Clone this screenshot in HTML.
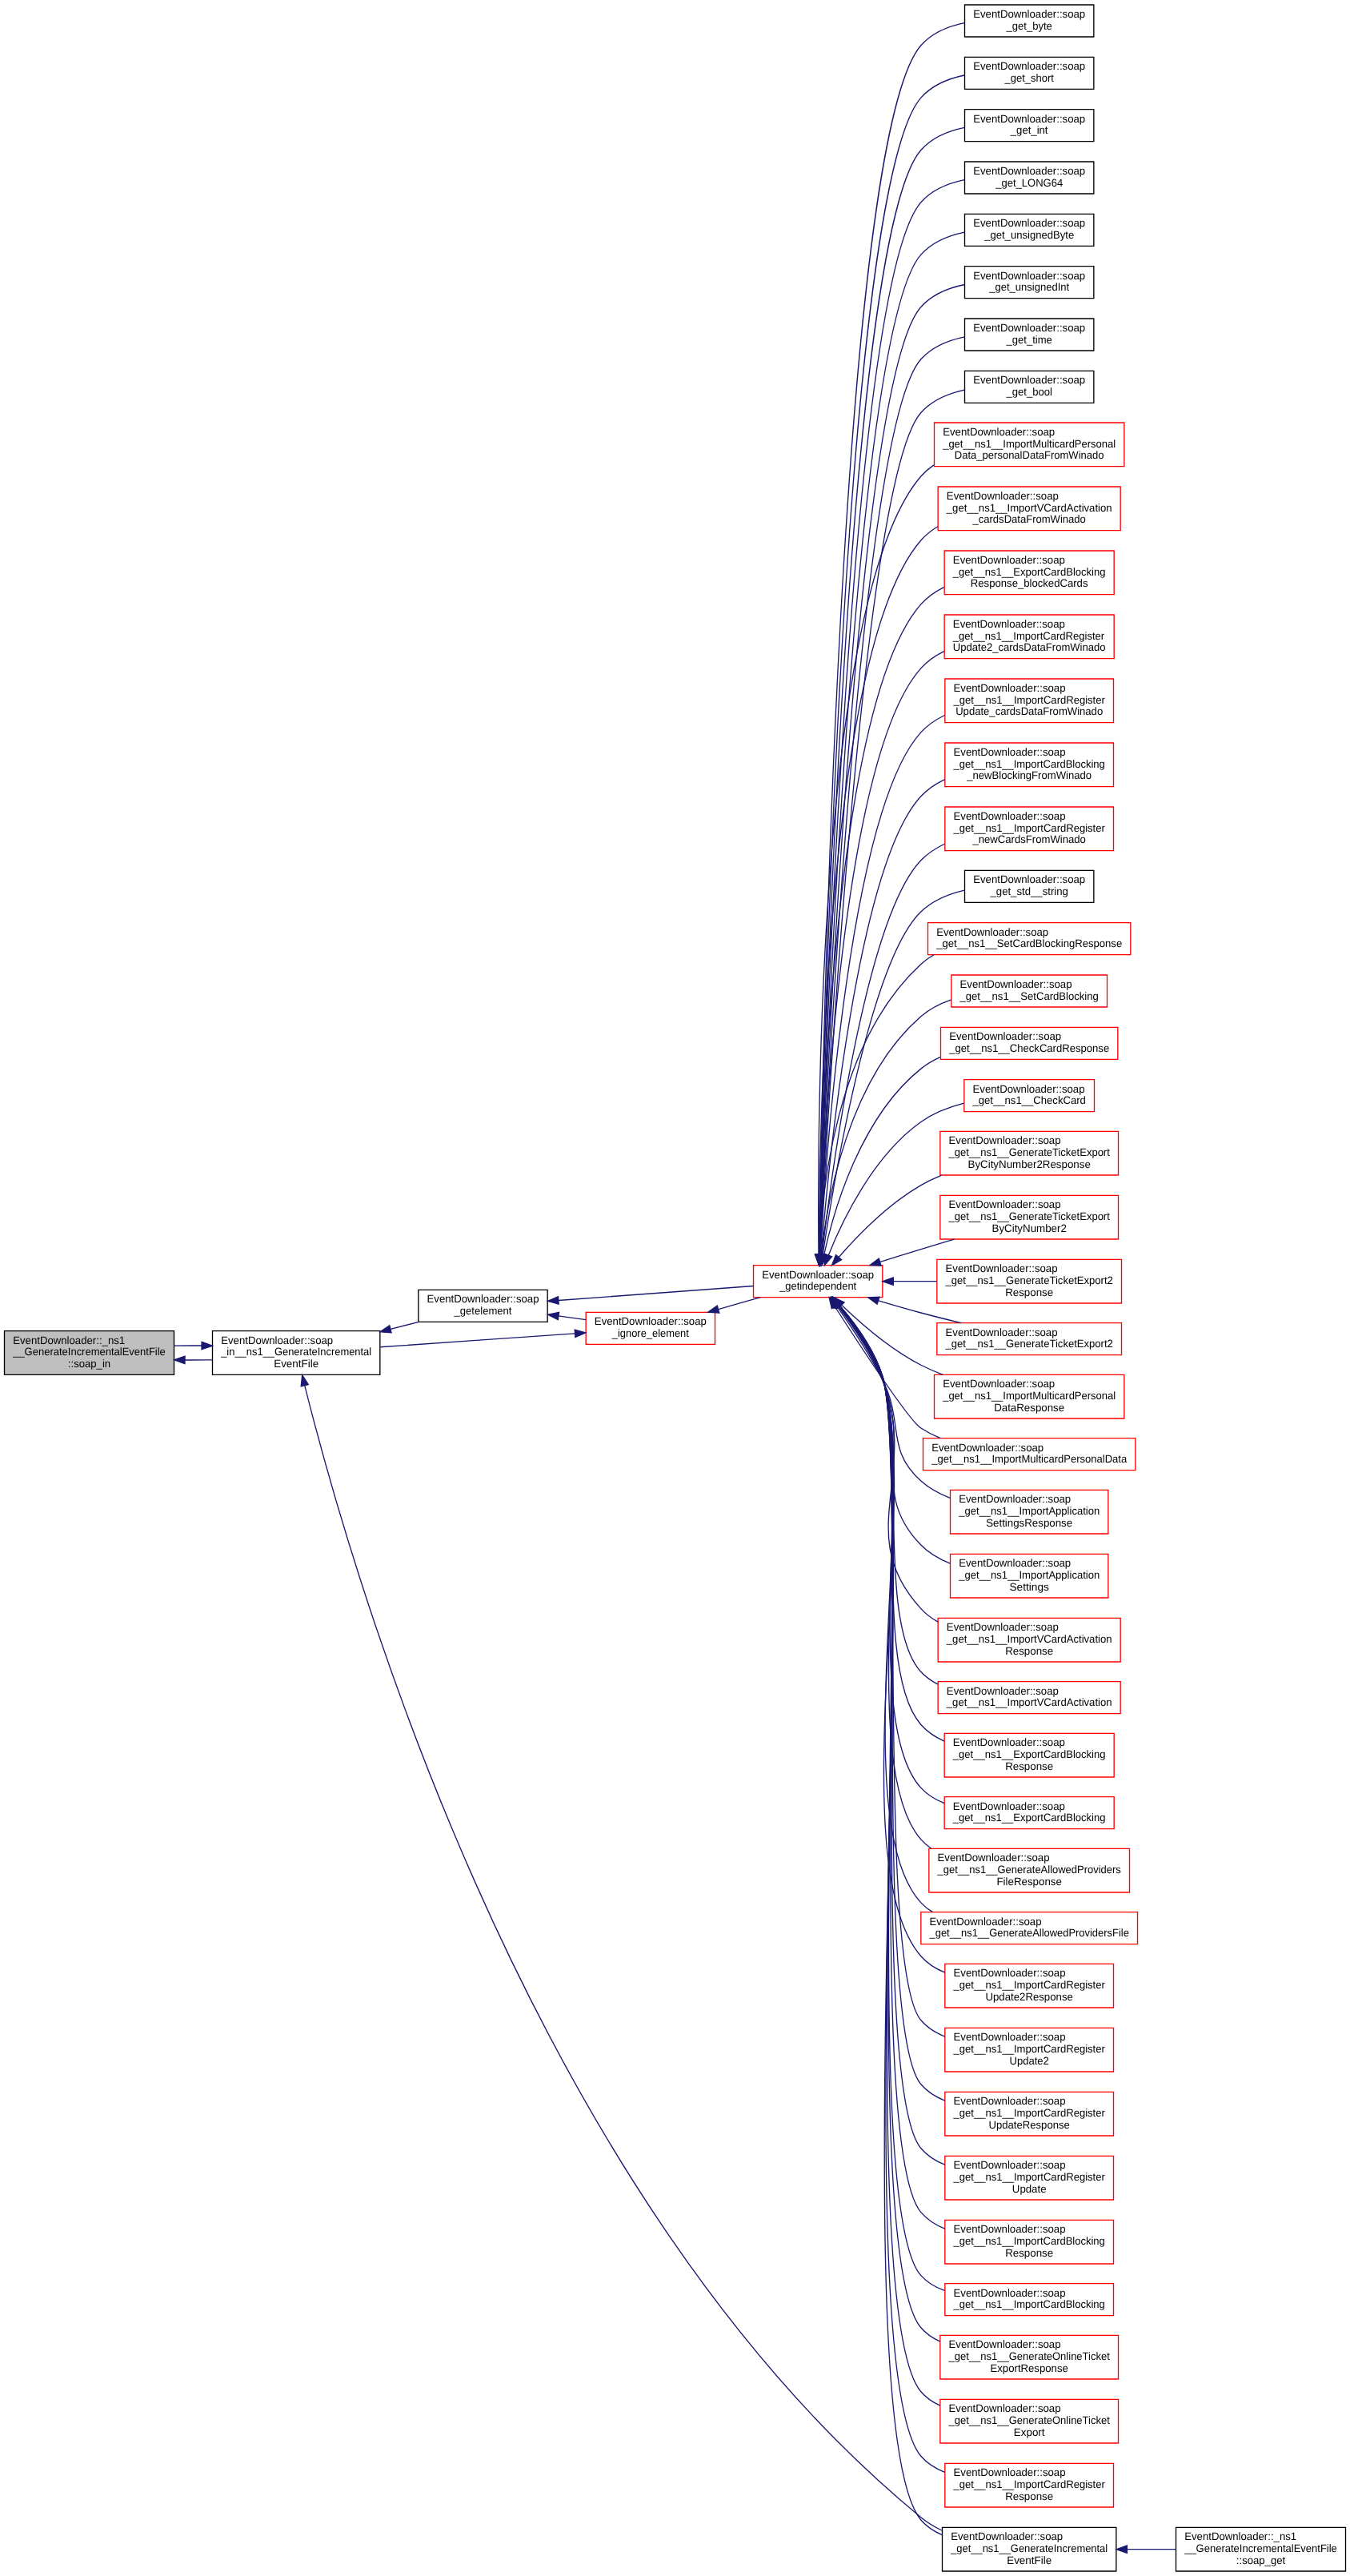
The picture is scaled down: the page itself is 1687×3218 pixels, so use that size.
<!DOCTYPE html>
<html><head><meta charset="utf-8"><title>Call graph</title>
<style>
html,body{margin:0;padding:0;background:#fff;}
body{width:1687px;height:3218px;overflow:hidden;}
svg{display:block;will-change:transform;}
text{font-family:"Liberation Sans",sans-serif;text-rendering:geometricPrecision;}
</style></head><body>
<svg width="1687px" height="3218px" viewBox="0 0 1265 2413.5">
<g transform="translate(4 2424.5)">
<polygon fill="white" stroke="transparent" points="-4,4 -4,-2424.5 1261,-2424.5 1261,4 -4,4" />
<g>
<polygon fill="#bfbfbf" stroke="black" points="0,-1136.5 0,-1177.5 159,-1177.5 159,-1136.5 0,-1136.5" />
<text text-anchor="start" x="8" y="-1165.5" font-family="Liberation Sans" font-size="10.2" textLength="105" lengthAdjust="spacingAndGlyphs">EventDownloader::_ns1</text>
<text text-anchor="start" x="8" y="-1154.5" font-family="Liberation Sans" font-size="10.2" textLength="143" lengthAdjust="spacingAndGlyphs">__GenerateIncrementalEventFile</text>
<text text-anchor="middle" x="79.5" y="-1143.5" font-family="Liberation Sans" font-size="10.2" textLength="40" lengthAdjust="spacingAndGlyphs">::soap_in</text>
</g>
<g>
<polygon fill="white" stroke="black" points="195,-1136.5 195,-1177.5 352,-1177.5 352,-1136.5 195,-1136.5" />
<text text-anchor="start" x="203" y="-1165.5" font-family="Liberation Sans" font-size="10.2" textLength="105" lengthAdjust="spacingAndGlyphs">EventDownloader::soap</text>
<text text-anchor="start" x="203" y="-1154.5" font-family="Liberation Sans" font-size="10.2" textLength="141" lengthAdjust="spacingAndGlyphs">_in__ns1__GenerateIncremental</text>
<text text-anchor="middle" x="273.5" y="-1143.5" font-family="Liberation Sans" font-size="10.2" textLength="42" lengthAdjust="spacingAndGlyphs">EventFile</text>
</g>
<g>
<path fill="none" stroke="midnightblue" d="M169.18,-1150.27C177.77,-1150.23 186.44,-1150.26 194.91,-1150.36" />
<polygon fill="midnightblue" stroke="midnightblue" points="169.12,-1146.77 159.15,-1150.35 169.18,-1153.77 169.12,-1146.77" />
</g>
<g>
<path fill="none" stroke="midnightblue" d="M184.89,-1163.73C176.31,-1163.77 167.63,-1163.75 159.15,-1163.65" />
<polygon fill="midnightblue" stroke="midnightblue" points="184.94,-1167.23 194.91,-1163.64 184.88,-1160.23 184.94,-1167.23" />
</g>
<g>
<polygon fill="white" stroke="black" points="388,-1186 388,-1216 509,-1216 509,-1186 388,-1186" />
<text text-anchor="start" x="396" y="-1204" font-family="Liberation Sans" font-size="10.2" textLength="105" lengthAdjust="spacingAndGlyphs">EventDownloader::soap</text>
<text text-anchor="middle" x="448.5" y="-1193" font-family="Liberation Sans" font-size="10.2" textLength="54" lengthAdjust="spacingAndGlyphs">_getelement</text>
</g>
<g>
<path fill="none" stroke="midnightblue" d="M361.91,-1179.23C370.92,-1181.52 379.92,-1183.81 388.52,-1186" />
<polygon fill="midnightblue" stroke="midnightblue" points="362.7,-1175.82 352.14,-1176.75 360.97,-1182.6 362.7,-1175.82" />
</g>
<g>
<polygon fill="white" stroke="black" points="879,-15.5 879,-56.5 1042,-56.5 1042,-15.5 879,-15.5" />
<text text-anchor="start" x="887" y="-44.5" font-family="Liberation Sans" font-size="10.2" textLength="105" lengthAdjust="spacingAndGlyphs">EventDownloader::soap</text>
<text text-anchor="start" x="887" y="-33.5" font-family="Liberation Sans" font-size="10.2" textLength="147" lengthAdjust="spacingAndGlyphs">_get__ns1__GenerateIncremental</text>
<text text-anchor="middle" x="960.5" y="-22.5" font-family="Liberation Sans" font-size="10.2" textLength="42" lengthAdjust="spacingAndGlyphs">EventFile</text>
</g>
<g>
<path fill="none" stroke="midnightblue" d="M281.5,-1126.22C316.28,-987.93 480.48,-376.28 859,-66 864.98,-61.09 871.75,-56.99 878.88,-53.56" />
<polygon fill="midnightblue" stroke="midnightblue" points="278.04,-1125.64 279.15,-1136.18 284.85,-1127.25 278.04,-1125.64" />
</g>
<g>
<polygon fill="white" stroke="red" points="702,-1209 702,-1239 823,-1239 823,-1209 702,-1209" />
<text text-anchor="start" x="710" y="-1227" font-family="Liberation Sans" font-size="10.2" textLength="105" lengthAdjust="spacingAndGlyphs">EventDownloader::soap</text>
<text text-anchor="middle" x="762.5" y="-1216" font-family="Liberation Sans" font-size="10.2" textLength="72" lengthAdjust="spacingAndGlyphs">_getindependent</text>
</g>
<g>
<path fill="none" stroke="midnightblue" d="M519.29,-1206.14C574.18,-1210.19 649.84,-1215.77 701.91,-1219.61" />
<polygon fill="midnightblue" stroke="midnightblue" points="519.52,-1202.65 509.29,-1205.41 519,-1209.63 519.52,-1202.65" />
</g>
<g>
<polygon fill="white" stroke="red" points="545,-1165 545,-1195 666,-1195 666,-1165 545,-1165" />
<text text-anchor="start" x="553" y="-1183" font-family="Liberation Sans" font-size="10.2" textLength="105" lengthAdjust="spacingAndGlyphs">EventDownloader::soap</text>
<text text-anchor="middle" x="605.5" y="-1172" font-family="Liberation Sans" font-size="10.2" textLength="72" lengthAdjust="spacingAndGlyphs">_ignore_element</text>
</g>
<g>
<path fill="none" stroke="midnightblue" d="M519.38,-1191.53C527.93,-1190.37 536.61,-1189.2 544.99,-1188.06" />
<polygon fill="midnightblue" stroke="midnightblue" points="518.87,-1188.07 509.43,-1192.88 519.81,-1195.01 518.87,-1188.07" />
</g>
<g>
<polygon fill="white" stroke="black" points="900,-2390 900,-2420 1021,-2420 1021,-2390 900,-2390" />
<text text-anchor="start" x="908" y="-2408" font-family="Liberation Sans" font-size="10.2" textLength="105" lengthAdjust="spacingAndGlyphs">EventDownloader::soap</text>
<text text-anchor="middle" x="960.5" y="-2397" font-family="Liberation Sans" font-size="10.2" textLength="43" lengthAdjust="spacingAndGlyphs">_get_byte</text>
</g>
<g>
<path fill="none" stroke="midnightblue" d="M763.84,-1249.44C766.2,-1411.37 782.53,-2294.49 859,-2381.9 869.28,-2393.65 884.37,-2399.9 899.74,-2403.03" />
<polygon fill="midnightblue" stroke="midnightblue" points="767.33,-1248.99 763.69,-1239.04 760.33,-1249.09 767.33,-1248.99" />
</g>
<g>
<polygon fill="white" stroke="black" points="900,-2341 900,-2371 1021,-2371 1021,-2341 900,-2341" />
<text text-anchor="start" x="908" y="-2359" font-family="Liberation Sans" font-size="10.2" textLength="105" lengthAdjust="spacingAndGlyphs">EventDownloader::soap</text>
<text text-anchor="middle" x="960.5" y="-2348" font-family="Liberation Sans" font-size="10.2" textLength="46" lengthAdjust="spacingAndGlyphs">_get_short</text>
</g>
<g>
<path fill="none" stroke="midnightblue" d="M763.93,-1249.36C766.84,-1407.02 785.74,-2249.47 859,-2332.9 869.3,-2344.63 884.4,-2350.87 899.77,-2354.01" />
<polygon fill="midnightblue" stroke="midnightblue" points="767.43,-1249.14 763.75,-1239.2 760.43,-1249.26 767.43,-1249.14" />
</g>
<g>
<polygon fill="white" stroke="black" points="900,-2292 900,-2322 1021,-2322 1021,-2292 900,-2292" />
<text text-anchor="start" x="908" y="-2310" font-family="Liberation Sans" font-size="10.2" textLength="105" lengthAdjust="spacingAndGlyphs">EventDownloader::soap</text>
<text text-anchor="middle" x="960.5" y="-2299" font-family="Liberation Sans" font-size="10.2" textLength="35" lengthAdjust="spacingAndGlyphs">_get_int</text>
</g>
<g>
<path fill="none" stroke="midnightblue" d="M764.04,-1249.66C767.54,-1403.94 789,-2204.51 859,-2283.9 869.33,-2295.61 884.43,-2301.85 899.8,-2304.98" />
<polygon fill="midnightblue" stroke="midnightblue" points="767.54,-1249.23 763.81,-1239.31 760.54,-1249.39 767.54,-1249.23" />
</g>
<g>
<polygon fill="white" stroke="black" points="900,-2243 900,-2273 1021,-2273 1021,-2243 900,-2243" />
<text text-anchor="start" x="908" y="-2261" font-family="Liberation Sans" font-size="10.2" textLength="105" lengthAdjust="spacingAndGlyphs">EventDownloader::soap</text>
<text text-anchor="middle" x="960.5" y="-2250" font-family="Liberation Sans" font-size="10.2" textLength="63" lengthAdjust="spacingAndGlyphs">_get_LONG64</text>
</g>
<g>
<path fill="none" stroke="midnightblue" d="M764.15,-1249.42C768.23,-1398.87 792.18,-2159.45 859,-2234.9 869.35,-2246.59 884.46,-2252.82 899.84,-2255.96" />
<polygon fill="midnightblue" stroke="midnightblue" points="767.65,-1249.27 763.89,-1239.36 760.65,-1249.45 767.65,-1249.27" />
</g>
<g>
<polygon fill="white" stroke="black" points="900,-2194 900,-2224 1021,-2224 1021,-2194 900,-2194" />
<text text-anchor="start" x="908" y="-2212" font-family="Liberation Sans" font-size="10.2" textLength="105" lengthAdjust="spacingAndGlyphs">EventDownloader::soap</text>
<text text-anchor="middle" x="960.5" y="-2201" font-family="Liberation Sans" font-size="10.2" textLength="84" lengthAdjust="spacingAndGlyphs">_get_unsignedByte</text>
</g>
<g>
<path fill="none" stroke="midnightblue" d="M764.29,-1249.54C769,-1394.92 795.41,-2114.45 859,-2185.9 869.38,-2197.56 884.5,-2203.79 899.87,-2206.92" />
<polygon fill="midnightblue" stroke="midnightblue" points="767.78,-1249.25 763.96,-1239.36 760.78,-1249.47 767.78,-1249.25" />
</g>
<g>
<polygon fill="white" stroke="black" points="900,-2145 900,-2175 1021,-2175 1021,-2145 900,-2145" />
<text text-anchor="start" x="908" y="-2163" font-family="Liberation Sans" font-size="10.2" textLength="105" lengthAdjust="spacingAndGlyphs">EventDownloader::soap</text>
<text text-anchor="middle" x="960.5" y="-2152" font-family="Liberation Sans" font-size="10.2" textLength="75" lengthAdjust="spacingAndGlyphs">_get_unsignedInt</text>
</g>
<g>
<path fill="none" stroke="midnightblue" d="M764.43,-1249.56C769.79,-1390.49 798.62,-2069.42 859,-2136.91 869.41,-2148.55 884.54,-2154.75 899.91,-2157.89" />
<polygon fill="midnightblue" stroke="midnightblue" points="767.92,-1249.16 764.05,-1239.3 760.92,-1249.43 767.92,-1249.16" />
</g>
<g>
<polygon fill="white" stroke="black" points="900,-2096 900,-2126 1021,-2126 1021,-2096 900,-2096" />
<text text-anchor="start" x="908" y="-2114" font-family="Liberation Sans" font-size="10.2" textLength="105" lengthAdjust="spacingAndGlyphs">EventDownloader::soap</text>
<text text-anchor="middle" x="960.5" y="-2103" font-family="Liberation Sans" font-size="10.2" textLength="43" lengthAdjust="spacingAndGlyphs">_get_time</text>
</g>
<g>
<path fill="none" stroke="midnightblue" d="M764.58,-1249.46C770.61,-1385.6 801.8,-2024.38 859,-2087.91 869.45,-2099.52 884.59,-2105.71 899.96,-2108.85" />
<polygon fill="midnightblue" stroke="midnightblue" points="768.07,-1249.02 764.14,-1239.18 761.08,-1249.32 768.07,-1249.02" />
</g>
<g>
<polygon fill="white" stroke="black" points="900,-2047 900,-2077 1021,-2077 1021,-2047 900,-2047" />
<text text-anchor="start" x="908" y="-2065" font-family="Liberation Sans" font-size="10.2" textLength="105" lengthAdjust="spacingAndGlyphs">EventDownloader::soap</text>
<text text-anchor="middle" x="960.5" y="-2054" font-family="Liberation Sans" font-size="10.2" textLength="43" lengthAdjust="spacingAndGlyphs">_get_bool</text>
</g>
<g>
<path fill="none" stroke="midnightblue" d="M764.78,-1249.62C771.61,-1381.26 805.38,-1978.17 859,-2037.91 869.45,-2049.56 884.6,-2055.88 899.97,-2059.18" />
<polygon fill="midnightblue" stroke="midnightblue" points="768.26,-1249.12 764.26,-1239.31 761.27,-1249.48 768.26,-1249.12" />
</g>
<g>
<polygon fill="white" stroke="red" points="871.5,-1987.5 871.5,-2028.5 1049.5,-2028.5 1049.5,-1987.5 871.5,-1987.5" />
<text text-anchor="start" x="879.5" y="-2016.5" font-family="Liberation Sans" font-size="10.2" textLength="105" lengthAdjust="spacingAndGlyphs">EventDownloader::soap</text>
<text text-anchor="start" x="879.5" y="-2005.5" font-family="Liberation Sans" font-size="10.2" textLength="162" lengthAdjust="spacingAndGlyphs">_get__ns1__ImportMulticardPersonal</text>
<text text-anchor="middle" x="960.5" y="-1994.5" font-family="Liberation Sans" font-size="10.2" textLength="140" lengthAdjust="spacingAndGlyphs">Data_personalDataFromWinado</text>
</g>
<g>
<path fill="none" stroke="midnightblue" d="M763.13,-1249.59C761.92,-1368.55 762.76,-1866.48 859,-1978.22 862.53,-1982.33 866.62,-1985.85 871.08,-1988.88" />
<polygon fill="midnightblue" stroke="midnightblue" points="766.63,-1249.33 763.25,-1239.29 759.63,-1249.25 766.63,-1249.33" />
</g>
<g>
<polygon fill="white" stroke="red" points="875,-1927.5 875,-1968.5 1046,-1968.5 1046,-1927.5 875,-1927.5" />
<text text-anchor="start" x="883" y="-1956.5" font-family="Liberation Sans" font-size="10.2" textLength="105" lengthAdjust="spacingAndGlyphs">EventDownloader::soap</text>
<text text-anchor="start" x="883" y="-1945.5" font-family="Liberation Sans" font-size="10.2" textLength="155" lengthAdjust="spacingAndGlyphs">_get__ns1__ImportVCardActivation</text>
<text text-anchor="middle" x="960.5" y="-1934.5" font-family="Liberation Sans" font-size="10.2" textLength="106" lengthAdjust="spacingAndGlyphs">_cardsDataFromWinado</text>
</g>
<g>
<path fill="none" stroke="midnightblue" d="M763.44,-1249.35C763.67,-1362.02 770.19,-1816.25 859,-1918.28 863.5,-1923.45 868.88,-1927.72 874.78,-1931.22" />
<polygon fill="midnightblue" stroke="midnightblue" points="766.94,-1249.25 763.43,-1239.26 759.94,-1249.26 766.94,-1249.25" />
</g>
<g>
<polygon fill="white" stroke="red" points="881,-1867.5 881,-1908.5 1040,-1908.5 1040,-1867.5 881,-1867.5" />
<text text-anchor="start" x="889" y="-1896.5" font-family="Liberation Sans" font-size="10.2" textLength="105" lengthAdjust="spacingAndGlyphs">EventDownloader::soap</text>
<text text-anchor="start" x="889" y="-1885.5" font-family="Liberation Sans" font-size="10.2" textLength="143" lengthAdjust="spacingAndGlyphs">_get__ns1__ExportCardBlocking</text>
<text text-anchor="middle" x="960.5" y="-1874.5" font-family="Liberation Sans" font-size="10.2" textLength="110" lengthAdjust="spacingAndGlyphs">Response_blockedCards</text>
</g>
<g>
<path fill="none" stroke="midnightblue" d="M763.8,-1249.18C765.56,-1355.42 777.62,-1766.01 859,-1858.37 864.97,-1865.15 872.44,-1870.35 880.6,-1874.34" />
<polygon fill="midnightblue" stroke="midnightblue" points="767.3,-1249.01 763.65,-1239.06 760.3,-1249.11 767.3,-1249.01" />
</g>
<g>
<polygon fill="white" stroke="red" points="881,-1807.5 881,-1848.5 1040,-1848.5 1040,-1807.5 881,-1807.5" />
<text text-anchor="start" x="889" y="-1836.5" font-family="Liberation Sans" font-size="10.2" textLength="105" lengthAdjust="spacingAndGlyphs">EventDownloader::soap</text>
<text text-anchor="start" x="889" y="-1825.5" font-family="Liberation Sans" font-size="10.2" textLength="142" lengthAdjust="spacingAndGlyphs">_get__ns1__ImportCardRegister</text>
<text text-anchor="middle" x="960.5" y="-1814.5" font-family="Liberation Sans" font-size="10.2" textLength="143" lengthAdjust="spacingAndGlyphs">Update2_cardsDataFromWinado</text>
</g>
<g>
<path fill="none" stroke="midnightblue" d="M764.24,-1249.34C767.66,-1349.41 785.11,-1715.81 859,-1798.37 865.02,-1805.1 872.52,-1810.28 880.7,-1814.25" />
<polygon fill="midnightblue" stroke="midnightblue" points="767.73,-1249.11 763.91,-1239.23 760.74,-1249.34 767.73,-1249.11" />
</g>
<g>
<polygon fill="white" stroke="red" points="881.5,-1747.5 881.5,-1788.5 1039.5,-1788.5 1039.5,-1747.5 881.5,-1747.5" />
<text text-anchor="start" x="889.5" y="-1776.5" font-family="Liberation Sans" font-size="10.2" textLength="105" lengthAdjust="spacingAndGlyphs">EventDownloader::soap</text>
<text text-anchor="start" x="889.5" y="-1765.5" font-family="Liberation Sans" font-size="10.2" textLength="142" lengthAdjust="spacingAndGlyphs">_get__ns1__ImportCardRegister</text>
<text text-anchor="middle" x="960.5" y="-1754.5" font-family="Liberation Sans" font-size="10.2" textLength="138" lengthAdjust="spacingAndGlyphs">Update_cardsDataFromWinado</text>
</g>
<g>
<path fill="none" stroke="midnightblue" d="M764.77,-1249.37C769.97,-1342.69 792.53,-1665.52 859,-1738.38 865.21,-1745.19 872.93,-1750.4 881.31,-1754.39" />
<polygon fill="midnightblue" stroke="midnightblue" points="768.26,-1248.95 764.23,-1239.15 761.27,-1249.32 768.26,-1248.95" />
</g>
<g>
<polygon fill="white" stroke="red" points="881.5,-1687.5 881.5,-1728.5 1039.5,-1728.5 1039.5,-1687.5 881.5,-1687.5" />
<text text-anchor="start" x="889.5" y="-1716.5" font-family="Liberation Sans" font-size="10.2" textLength="105" lengthAdjust="spacingAndGlyphs">EventDownloader::soap</text>
<text text-anchor="start" x="889.5" y="-1705.5" font-family="Liberation Sans" font-size="10.2" textLength="142" lengthAdjust="spacingAndGlyphs">_get__ns1__ImportCardBlocking</text>
<text text-anchor="middle" x="960.5" y="-1694.5" font-family="Liberation Sans" font-size="10.2" textLength="117" lengthAdjust="spacingAndGlyphs">_newBlockingFromWinado</text>
</g>
<g>
<path fill="none" stroke="midnightblue" d="M765.43,-1249.17C772.53,-1335.07 799.86,-1615.1 859,-1678.39 865.29,-1685.12 873.06,-1690.28 881.47,-1694.25" />
<polygon fill="midnightblue" stroke="midnightblue" points="768.91,-1248.7 764.61,-1239.02 761.93,-1249.27 768.91,-1248.7" />
</g>
<g>
<polygon fill="white" stroke="red" points="881.5,-1627.5 881.5,-1668.5 1039.5,-1668.5 1039.5,-1627.5 881.5,-1627.5" />
<text text-anchor="start" x="889.5" y="-1656.5" font-family="Liberation Sans" font-size="10.2" textLength="105" lengthAdjust="spacingAndGlyphs">EventDownloader::soap</text>
<text text-anchor="start" x="889.5" y="-1645.5" font-family="Liberation Sans" font-size="10.2" textLength="142" lengthAdjust="spacingAndGlyphs">_get__ns1__ImportCardRegister</text>
<text text-anchor="middle" x="960.5" y="-1634.5" font-family="Liberation Sans" font-size="10.2" textLength="106" lengthAdjust="spacingAndGlyphs">_newCardsFromWinado</text>
</g>
<g>
<path fill="none" stroke="midnightblue" d="M766.29,-1249.16C775.49,-1327.38 807.19,-1564.63 859,-1618.39 865.26,-1624.89 872.91,-1629.92 881.17,-1633.82" />
<polygon fill="midnightblue" stroke="midnightblue" points="769.77,-1248.73 765.15,-1239.19 762.81,-1249.53 769.77,-1248.73" />
</g>
<g>
<polygon fill="white" stroke="black" points="900,-1579 900,-1609 1021,-1609 1021,-1579 900,-1579" />
<text text-anchor="start" x="908" y="-1597" font-family="Liberation Sans" font-size="10.2" textLength="105" lengthAdjust="spacingAndGlyphs">EventDownloader::soap</text>
<text text-anchor="middle" x="960.5" y="-1586" font-family="Liberation Sans" font-size="10.2" textLength="73" lengthAdjust="spacingAndGlyphs">_get_std__string</text>
</g>
<g>
<path fill="none" stroke="midnightblue" d="M767.11,-1249.44C777.87,-1321.55 811.88,-1525.13 859,-1570.31 870.03,-1580.88 884.9,-1586.98 899.82,-1590.43" />
<polygon fill="midnightblue" stroke="midnightblue" points="770.56,-1248.79 765.64,-1239.41 763.63,-1249.81 770.56,-1248.79" />
</g>
<g>
<polygon fill="white" stroke="red" points="865.5,-1530 865.5,-1560 1055.5,-1560 1055.5,-1530 865.5,-1530" />
<text text-anchor="start" x="873.5" y="-1548" font-family="Liberation Sans" font-size="10.2" textLength="105" lengthAdjust="spacingAndGlyphs">EventDownloader::soap</text>
<text text-anchor="middle" x="960.5" y="-1537" font-family="Liberation Sans" font-size="10.2" textLength="174" lengthAdjust="spacingAndGlyphs">_get__ns1__SetCardBlockingResponse</text>
</g>
<g>
<path fill="none" stroke="midnightblue" d="M763.75,-1249.4C765.77,-1306.9 779.07,-1447.76 859,-1521.11 862.68,-1524.49 866.76,-1527.41 871.11,-1529.92" />
<polygon fill="midnightblue" stroke="midnightblue" points="767.24,-1248.95 763.48,-1239.05 760.24,-1249.14 767.24,-1248.95" />
</g>
<g>
<polygon fill="white" stroke="red" points="887.5,-1481 887.5,-1511 1033.5,-1511 1033.5,-1481 887.5,-1481" />
<text text-anchor="start" x="895.5" y="-1499" font-family="Liberation Sans" font-size="10.2" textLength="105" lengthAdjust="spacingAndGlyphs">EventDownloader::soap</text>
<text text-anchor="middle" x="960.5" y="-1488" font-family="Liberation Sans" font-size="10.2" textLength="130" lengthAdjust="spacingAndGlyphs">_get__ns1__SetCardBlocking</text>
</g>
<g>
<path fill="none" stroke="midnightblue" d="M765.56,-1249.04C771.1,-1299.37 790.87,-1413.1 859,-1472.23 867.16,-1479.32 877.08,-1484.35 887.47,-1487.9" />
<polygon fill="midnightblue" stroke="midnightblue" points="769.04,-1248.63 764.56,-1239.02 762.07,-1249.32 769.04,-1248.63" />
</g>
<g>
<polygon fill="white" stroke="red" points="877.5,-1432 877.5,-1462 1043.5,-1462 1043.5,-1432 877.5,-1432" />
<text text-anchor="start" x="885.5" y="-1450" font-family="Liberation Sans" font-size="10.2" textLength="105" lengthAdjust="spacingAndGlyphs">EventDownloader::soap</text>
<text text-anchor="middle" x="960.5" y="-1439" font-family="Liberation Sans" font-size="10.2" textLength="150" lengthAdjust="spacingAndGlyphs">_get__ns1__CheckCardResponse</text>
</g>
<g>
<path fill="none" stroke="midnightblue" d="M768.15,-1248.85C777.47,-1291.41 802.59,-1378.08 859,-1423.17 864.44,-1427.52 870.56,-1431.07 877.01,-1433.98" />
<polygon fill="midnightblue" stroke="midnightblue" points="771.57,-1248.1 766.11,-1239.02 764.71,-1249.52 771.57,-1248.1" />
</g>
<g>
<polygon fill="white" stroke="red" points="899.5,-1383 899.5,-1413 1021.5,-1413 1021.5,-1383 899.5,-1383" />
<text text-anchor="start" x="907.5" y="-1401" font-family="Liberation Sans" font-size="10.2" textLength="105" lengthAdjust="spacingAndGlyphs">EventDownloader::soap</text>
<text text-anchor="middle" x="960.5" y="-1390" font-family="Liberation Sans" font-size="10.2" textLength="106" lengthAdjust="spacingAndGlyphs">_get__ns1__CheckCard</text>
</g>
<g>
<path fill="none" stroke="midnightblue" d="M772.36,-1248.56C785.77,-1282.06 814.49,-1341.64 859,-1373.32 870.82,-1381.73 885.22,-1387.24 899.39,-1390.85" />
<polygon fill="midnightblue" stroke="midnightblue" points="775.55,-1247.1 768.69,-1239.03 769.02,-1249.62 775.55,-1247.1" />
</g>
<g>
<polygon fill="white" stroke="red" points="877,-1323.5 877,-1364.5 1044,-1364.5 1044,-1323.5 877,-1323.5" />
<text text-anchor="start" x="885" y="-1352.5" font-family="Liberation Sans" font-size="10.2" textLength="105" lengthAdjust="spacingAndGlyphs">EventDownloader::soap</text>
<text text-anchor="start" x="885" y="-1341.5" font-family="Liberation Sans" font-size="10.2" textLength="151" lengthAdjust="spacingAndGlyphs">_get__ns1__GenerateTicketExport</text>
<text text-anchor="middle" x="960.5" y="-1330.5" font-family="Liberation Sans" font-size="10.2" textLength="115" lengthAdjust="spacingAndGlyphs">ByCityNumber2Response</text>
</g>
<g>
<path fill="none" stroke="midnightblue" d="M782.19,-1246.86C799.97,-1267.21 828.47,-1296.4 859,-1314 865.07,-1317.5 871.59,-1320.63 878.29,-1323.41" />
<polygon fill="midnightblue" stroke="midnightblue" points="784.63,-1244.33 775.47,-1239.01 779.31,-1248.88 784.63,-1244.33" />
</g>
<g>
<polygon fill="white" stroke="red" points="877,-1263.5 877,-1304.5 1044,-1304.5 1044,-1263.5 877,-1263.5" />
<text text-anchor="start" x="885" y="-1292.5" font-family="Liberation Sans" font-size="10.2" textLength="105" lengthAdjust="spacingAndGlyphs">EventDownloader::soap</text>
<text text-anchor="start" x="885" y="-1281.5" font-family="Liberation Sans" font-size="10.2" textLength="151" lengthAdjust="spacingAndGlyphs">_get__ns1__GenerateTicketExport</text>
<text text-anchor="middle" x="960.5" y="-1270.5" font-family="Liberation Sans" font-size="10.2" textLength="70" lengthAdjust="spacingAndGlyphs">ByCityNumber2</text>
</g>
<g>
<path fill="none" stroke="midnightblue" d="M820.94,-1242.19C833.48,-1246.12 846.68,-1250.22 859,-1254 869.1,-1257.09 879.78,-1260.32 890.26,-1263.47" />
<polygon fill="midnightblue" stroke="midnightblue" points="821.65,-1238.75 811.06,-1239.09 819.56,-1245.42 821.65,-1238.75" />
</g>
<g>
<polygon fill="white" stroke="red" points="874,-1203.5 874,-1244.5 1047,-1244.5 1047,-1203.5 874,-1203.5" />
<text text-anchor="start" x="882" y="-1232.5" font-family="Liberation Sans" font-size="10.2" textLength="105" lengthAdjust="spacingAndGlyphs">EventDownloader::soap</text>
<text text-anchor="start" x="882" y="-1221.5" font-family="Liberation Sans" font-size="10.2" textLength="157" lengthAdjust="spacingAndGlyphs">_get__ns1__GenerateTicketExport2</text>
<text text-anchor="middle" x="960.5" y="-1210.5" font-family="Liberation Sans" font-size="10.2" textLength="45" lengthAdjust="spacingAndGlyphs">Response</text>
</g>
<g>
<path fill="none" stroke="midnightblue" d="M833.42,-1224C846.51,-1224 860.32,-1224 873.82,-1224" />
<polygon fill="midnightblue" stroke="midnightblue" points="833.1,-1220.5 823.1,-1224 833.1,-1227.5 833.1,-1220.5" />
</g>
<g>
<polygon fill="white" stroke="red" points="874,-1155 874,-1185 1047,-1185 1047,-1155 874,-1155" />
<text text-anchor="start" x="882" y="-1173" font-family="Liberation Sans" font-size="10.2" textLength="105" lengthAdjust="spacingAndGlyphs">EventDownloader::soap</text>
<text text-anchor="middle" x="960.5" y="-1162" font-family="Liberation Sans" font-size="10.2" textLength="157" lengthAdjust="spacingAndGlyphs">_get__ns1__GenerateTicketExport2</text>
</g>
<g>
<path fill="none" stroke="midnightblue" d="M819.23,-1205.87C832.24,-1201.98 846.07,-1197.99 859,-1194.51 871.12,-1191.26 884.12,-1188.02 896.62,-1185.02" />
<polygon fill="midnightblue" stroke="midnightblue" points="817.97,-1202.6 809.48,-1208.94 820.07,-1209.28 817.97,-1202.6" />
</g>
<g>
<polygon fill="white" stroke="red" points="871.5,-1095.5 871.5,-1136.5 1049.5,-1136.5 1049.5,-1095.5 871.5,-1095.5" />
<text text-anchor="start" x="879.5" y="-1124.5" font-family="Liberation Sans" font-size="10.2" textLength="105" lengthAdjust="spacingAndGlyphs">EventDownloader::soap</text>
<text text-anchor="start" x="879.5" y="-1113.5" font-family="Liberation Sans" font-size="10.2" textLength="162" lengthAdjust="spacingAndGlyphs">_get__ns1__ImportMulticardPersonal</text>
<text text-anchor="middle" x="960.5" y="-1102.5" font-family="Liberation Sans" font-size="10.2" textLength="66" lengthAdjust="spacingAndGlyphs">DataResponse</text>
</g>
<g>
<path fill="none" stroke="midnightblue" d="M784.82,-1201.67C803.02,-1184.16 830.67,-1160.22 859,-1145.57 865.49,-1142.21 872.45,-1139.22 879.56,-1136.56" />
<polygon fill="midnightblue" stroke="midnightblue" points="782.21,-1199.33 777.63,-1208.88 787.17,-1204.27 782.21,-1199.33" />
</g>
<g>
<polygon fill="white" stroke="red" points="861,-1047 861,-1077 1060,-1077 1060,-1047 861,-1047" />
<text text-anchor="start" x="869" y="-1065" font-family="Liberation Sans" font-size="10.2" textLength="105" lengthAdjust="spacingAndGlyphs">EventDownloader::soap</text>
<text text-anchor="middle" x="960.5" y="-1054" font-family="Liberation Sans" font-size="10.2" textLength="183" lengthAdjust="spacingAndGlyphs">_get__ns1__ImportMulticardPersonalData</text>
</g>
<g>
<path fill="none" stroke="midnightblue" d="M778.59,-1199.93C802.56,-1162.73 847.79,-1093.91 859,-1086.45 864.61,-1082.72 870.77,-1079.6 877.19,-1077.02" />
<polygon fill="midnightblue" stroke="midnightblue" points="775.36,-1198.49 772.99,-1208.82 781.28,-1202.22 775.36,-1198.49" />
</g>
<g>
<polygon fill="white" stroke="red" points="886.5,-987.5 886.5,-1028.5 1034.5,-1028.5 1034.5,-987.5 886.5,-987.5" />
<text text-anchor="start" x="894.5" y="-1016.5" font-family="Liberation Sans" font-size="10.2" textLength="105" lengthAdjust="spacingAndGlyphs">EventDownloader::soap</text>
<text text-anchor="start" x="894.5" y="-1005.5" font-family="Liberation Sans" font-size="10.2" textLength="132" lengthAdjust="spacingAndGlyphs">_get__ns1__ImportApplication</text>
<text text-anchor="middle" x="960.5" y="-994.5" font-family="Liberation Sans" font-size="10.2" textLength="81" lengthAdjust="spacingAndGlyphs">SettingsResponse</text>
</g>
<g>
<path fill="none" stroke="midnightblue" d="M780.26,-1200.54C793.04,-1182.47 810.51,-1156.26 823,-1131.61 843.29,-1091.58 825.69,-1066.81 859,-1036.97 866.79,-1030 876.26,-1024.84 886.25,-1021.04" />
<polygon fill="midnightblue" stroke="midnightblue" points="777.26,-1198.73 774.41,-1208.94 783,-1202.73 777.26,-1198.73" />
</g>
<g>
<polygon fill="white" stroke="red" points="886.5,-927.5 886.5,-968.5 1034.5,-968.5 1034.5,-927.5 886.5,-927.5" />
<text text-anchor="start" x="894.5" y="-956.5" font-family="Liberation Sans" font-size="10.2" textLength="105" lengthAdjust="spacingAndGlyphs">EventDownloader::soap</text>
<text text-anchor="start" x="894.5" y="-945.5" font-family="Liberation Sans" font-size="10.2" textLength="132" lengthAdjust="spacingAndGlyphs">_get__ns1__ImportApplication</text>
<text text-anchor="middle" x="960.5" y="-934.5" font-family="Liberation Sans" font-size="10.2" textLength="37" lengthAdjust="spacingAndGlyphs">Settings</text>
</g>
<g>
<path fill="none" stroke="midnightblue" d="M781.44,-1200.65C794.71,-1182.85 812.26,-1156.9 823,-1131.58 850.42,-1066.97 810.3,-1026.98 859,-976.96 866.54,-969.21 876.13,-963.67 886.38,-959.71" />
<polygon fill="midnightblue" stroke="midnightblue" points="778.45,-1198.81 775.33,-1208.93 784.08,-1202.96 778.45,-1198.81" />
</g>
<g>
<polygon fill="white" stroke="red" points="875,-867.5 875,-908.5 1046,-908.5 1046,-867.5 875,-867.5" />
<text text-anchor="start" x="883" y="-896.5" font-family="Liberation Sans" font-size="10.2" textLength="105" lengthAdjust="spacingAndGlyphs">EventDownloader::soap</text>
<text text-anchor="start" x="883" y="-885.5" font-family="Liberation Sans" font-size="10.2" textLength="155" lengthAdjust="spacingAndGlyphs">_get__ns1__ImportVCardActivation</text>
<text text-anchor="middle" x="960.5" y="-874.5" font-family="Liberation Sans" font-size="10.2" textLength="45" lengthAdjust="spacingAndGlyphs">Response</text>
</g>
<g>
<path fill="none" stroke="midnightblue" d="M782.14,-1200.5C795.61,-1182.88 813.11,-1157.23 823,-1131.76 857.72,-1042.34 794.61,-987.52 859,-917.31 863.58,-912.32 869.01,-908.24 874.94,-904.93" />
<polygon fill="midnightblue" stroke="midnightblue" points="779.15,-1198.66 775.9,-1208.74 784.73,-1202.88 779.15,-1198.66" />
</g>
<g>
<polygon fill="white" stroke="red" points="875,-819 875,-849 1046,-849 1046,-819 875,-819" />
<text text-anchor="start" x="883" y="-837" font-family="Liberation Sans" font-size="10.2" textLength="105" lengthAdjust="spacingAndGlyphs">EventDownloader::soap</text>
<text text-anchor="middle" x="960.5" y="-826" font-family="Liberation Sans" font-size="10.2" textLength="155" lengthAdjust="spacingAndGlyphs">_get__ns1__ImportVCardActivation</text>
</g>
<g>
<path fill="none" stroke="midnightblue" d="M782.41,-1200.6C796.02,-1183.19 813.57,-1157.75 823,-1132.19 844.04,-1075.16 817.83,-902.08 859,-858.14 863.55,-853.29 868.96,-849.45 874.88,-846.42" />
<polygon fill="midnightblue" stroke="midnightblue" points="779.41,-1198.75 776.1,-1208.81 784.97,-1203.02 779.41,-1198.75" />
</g>
<g>
<polygon fill="white" stroke="red" points="881,-759.5 881,-800.5 1040,-800.5 1040,-759.5 881,-759.5" />
<text text-anchor="start" x="889" y="-788.5" font-family="Liberation Sans" font-size="10.2" textLength="105" lengthAdjust="spacingAndGlyphs">EventDownloader::soap</text>
<text text-anchor="start" x="889" y="-777.5" font-family="Liberation Sans" font-size="10.2" textLength="143" lengthAdjust="spacingAndGlyphs">_get__ns1__ExportCardBlocking</text>
<text text-anchor="middle" x="960.5" y="-766.5" font-family="Liberation Sans" font-size="10.2" textLength="45" lengthAdjust="spacingAndGlyphs">Response</text>
</g>
<g>
<path fill="none" stroke="midnightblue" d="M782.56,-1200.65C796.24,-1183.37 813.83,-1158.07 823,-1132.47 847.11,-1065.16 812.31,-861.78 859,-808.67 864.95,-801.9 872.52,-796.88 880.82,-793.19" />
<polygon fill="midnightblue" stroke="midnightblue" points="779.56,-1198.8 776.21,-1208.85 785.1,-1203.09 779.56,-1198.8" />
</g>
<g>
<polygon fill="white" stroke="red" points="881,-711 881,-741 1040,-741 1040,-711 881,-711" />
<text text-anchor="start" x="889" y="-729" font-family="Liberation Sans" font-size="10.2" textLength="105" lengthAdjust="spacingAndGlyphs">EventDownloader::soap</text>
<text text-anchor="middle" x="960.5" y="-718" font-family="Liberation Sans" font-size="10.2" textLength="143" lengthAdjust="spacingAndGlyphs">_get__ns1__ExportCardBlocking</text>
</g>
<g>
<path fill="none" stroke="midnightblue" d="M782.69,-1200.7C796.44,-1183.58 814.05,-1158.48 823,-1132.87 850.81,-1053.32 802.85,-810.77 859,-749.44 864.98,-742.92 872.56,-738.28 880.88,-735.04" />
<polygon fill="midnightblue" stroke="midnightblue" points="779.69,-1198.85 776.3,-1208.89 785.21,-1203.15 779.69,-1198.85" />
</g>
<g>
<polygon fill="white" stroke="red" points="866.5,-651.5 866.5,-692.5 1054.5,-692.5 1054.5,-651.5 866.5,-651.5" />
<text text-anchor="start" x="874.5" y="-680.5" font-family="Liberation Sans" font-size="10.2" textLength="105" lengthAdjust="spacingAndGlyphs">EventDownloader::soap</text>
<text text-anchor="start" x="874.5" y="-669.5" font-family="Liberation Sans" font-size="10.2" textLength="172" lengthAdjust="spacingAndGlyphs">_get__ns1__GenerateAllowedProviders</text>
<text text-anchor="middle" x="960.5" y="-658.5" font-family="Liberation Sans" font-size="10.2" textLength="61" lengthAdjust="spacingAndGlyphs">FileResponse</text>
</g>
<g>
<path fill="none" stroke="midnightblue" d="M782.77,-1200.73C796.56,-1183.92 814.19,-1159.21 823,-1133.75 853.89,-1044.44 797.75,-770.89 859,-701.1 861.87,-697.82 865.13,-695 868.69,-692.56" />
<polygon fill="midnightblue" stroke="midnightblue" points="779.77,-1198.87 776.36,-1208.9 785.28,-1203.19 779.77,-1198.87" />
</g>
<g>
<polygon fill="white" stroke="red" points="859,-603 859,-633 1062,-633 1062,-603 859,-603" />
<text text-anchor="start" x="867" y="-621" font-family="Liberation Sans" font-size="10.2" textLength="105" lengthAdjust="spacingAndGlyphs">EventDownloader::soap</text>
<text text-anchor="middle" x="960.5" y="-610" font-family="Liberation Sans" font-size="10.2" textLength="187" lengthAdjust="spacingAndGlyphs">_get__ns1__GenerateAllowedProvidersFile</text>
</g>
<g>
<path fill="none" stroke="midnightblue" d="M782.84,-1200.75C796.68,-1184.11 814.32,-1159.58 823,-1134.14 857.59,-1032.75 787.83,-719.05 859,-641.86 862.24,-638.34 865.98,-635.42 870.06,-633" />
<polygon fill="midnightblue" stroke="midnightblue" points="779.85,-1198.9 776.41,-1208.92 785.35,-1203.23 779.85,-1198.9" />
</g>
<g>
<polygon fill="white" stroke="red" points="881.5,-543.5 881.5,-584.5 1039.5,-584.5 1039.5,-543.5 881.5,-543.5" />
<text text-anchor="start" x="889.5" y="-572.5" font-family="Liberation Sans" font-size="10.2" textLength="105" lengthAdjust="spacingAndGlyphs">EventDownloader::soap</text>
<text text-anchor="start" x="889.5" y="-561.5" font-family="Liberation Sans" font-size="10.2" textLength="142" lengthAdjust="spacingAndGlyphs">_get__ns1__ImportCardRegister</text>
<text text-anchor="middle" x="960.5" y="-550.5" font-family="Liberation Sans" font-size="10.2" textLength="82" lengthAdjust="spacingAndGlyphs">Update2Response</text>
</g>
<g>
<path fill="none" stroke="midnightblue" d="M782.89,-1200.77C796.75,-1184.11 814.41,-1159.55 823,-1134.07 860.68,-1022.28 783.18,-679.09 859,-591.72 865.02,-584.79 872.85,-579.87 881.49,-576.44" />
<polygon fill="midnightblue" stroke="midnightblue" points="779.9,-1198.92 776.45,-1208.94 785.39,-1203.25 779.9,-1198.92" />
</g>
<g>
<polygon fill="white" stroke="red" points="881.5,-483.5 881.5,-524.5 1039.5,-524.5 1039.5,-483.5 881.5,-483.5" />
<text text-anchor="start" x="889.5" y="-512.5" font-family="Liberation Sans" font-size="10.2" textLength="105" lengthAdjust="spacingAndGlyphs">EventDownloader::soap</text>
<text text-anchor="start" x="889.5" y="-501.5" font-family="Liberation Sans" font-size="10.2" textLength="142" lengthAdjust="spacingAndGlyphs">_get__ns1__ImportCardRegister</text>
<text text-anchor="middle" x="960.5" y="-490.5" font-family="Liberation Sans" font-size="10.2" textLength="37" lengthAdjust="spacingAndGlyphs">Update2</text>
</g>
<g>
<path fill="none" stroke="midnightblue" d="M782.94,-1200.78C796.83,-1184.14 814.5,-1159.58 823,-1134.07 843.69,-1071.97 817.11,-580.34 859,-531.72 864.99,-524.77 872.81,-519.84 881.44,-516.41" />
<polygon fill="midnightblue" stroke="midnightblue" points="779.94,-1198.93 776.49,-1208.95 785.43,-1203.27 779.94,-1198.93" />
</g>
<g>
<polygon fill="white" stroke="red" points="881.5,-423.5 881.5,-464.5 1039.5,-464.5 1039.5,-423.5 881.5,-423.5" />
<text text-anchor="start" x="889.5" y="-452.5" font-family="Liberation Sans" font-size="10.2" textLength="105" lengthAdjust="spacingAndGlyphs">EventDownloader::soap</text>
<text text-anchor="start" x="889.5" y="-441.5" font-family="Liberation Sans" font-size="10.2" textLength="142" lengthAdjust="spacingAndGlyphs">_get__ns1__ImportCardRegister</text>
<text text-anchor="middle" x="960.5" y="-430.5" font-family="Liberation Sans" font-size="10.2" textLength="76" lengthAdjust="spacingAndGlyphs">UpdateResponse</text>
</g>
<g>
<path fill="none" stroke="midnightblue" d="M782.98,-1200.8C796.89,-1184.16 814.57,-1159.61 823,-1134.07 845.55,-1065.77 813.13,-525.27 859,-471.72 864.97,-464.75 872.78,-459.81 881.41,-456.38" />
<polygon fill="midnightblue" stroke="midnightblue" points="779.98,-1198.95 776.52,-1208.96 785.47,-1203.29 779.98,-1198.95" />
</g>
<g>
<polygon fill="white" stroke="red" points="881.5,-363.5 881.5,-404.5 1039.5,-404.5 1039.5,-363.5 881.5,-363.5" />
<text text-anchor="start" x="889.5" y="-392.5" font-family="Liberation Sans" font-size="10.2" textLength="105" lengthAdjust="spacingAndGlyphs">EventDownloader::soap</text>
<text text-anchor="start" x="889.5" y="-381.5" font-family="Liberation Sans" font-size="10.2" textLength="142" lengthAdjust="spacingAndGlyphs">_get__ns1__ImportCardRegister</text>
<text text-anchor="middle" x="960.5" y="-370.5" font-family="Liberation Sans" font-size="10.2" textLength="32" lengthAdjust="spacingAndGlyphs">Update</text>
</g>
<g>
<path fill="none" stroke="midnightblue" d="M783.02,-1200.81C796.94,-1184.18 814.63,-1159.63 823,-1134.07 847.4,-1059.56 809.15,-470.21 859,-411.73 864.96,-404.74 872.75,-399.79 881.37,-396.35" />
<polygon fill="midnightblue" stroke="midnightblue" points="780.02,-1198.96 776.54,-1208.96 785.5,-1203.31 780.02,-1198.96" />
</g>
<g>
<polygon fill="white" stroke="red" points="881.5,-303.5 881.5,-344.5 1039.5,-344.5 1039.5,-303.5 881.5,-303.5" />
<text text-anchor="start" x="889.5" y="-332.5" font-family="Liberation Sans" font-size="10.2" textLength="105" lengthAdjust="spacingAndGlyphs">EventDownloader::soap</text>
<text text-anchor="start" x="889.5" y="-321.5" font-family="Liberation Sans" font-size="10.2" textLength="142" lengthAdjust="spacingAndGlyphs">_get__ns1__ImportCardBlocking</text>
<text text-anchor="middle" x="960.5" y="-310.5" font-family="Liberation Sans" font-size="10.2" textLength="45" lengthAdjust="spacingAndGlyphs">Response</text>
</g>
<g>
<path fill="none" stroke="midnightblue" d="M783.05,-1200.82C796.98,-1184.2 814.68,-1159.66 823,-1134.06 849.26,-1053.35 805.17,-415.14 859,-351.73 864.94,-344.73 872.73,-339.77 881.35,-336.33" />
<polygon fill="midnightblue" stroke="midnightblue" points="780.05,-1198.97 776.56,-1208.97 785.53,-1203.32 780.05,-1198.97" />
</g>
<g>
<polygon fill="white" stroke="red" points="881.5,-255 881.5,-285 1039.5,-285 1039.5,-255 881.5,-255" />
<text text-anchor="start" x="889.5" y="-273" font-family="Liberation Sans" font-size="10.2" textLength="105" lengthAdjust="spacingAndGlyphs">EventDownloader::soap</text>
<text text-anchor="middle" x="960.5" y="-262" font-family="Liberation Sans" font-size="10.2" textLength="142" lengthAdjust="spacingAndGlyphs">_get__ns1__ImportCardBlocking</text>
</g>
<g>
<path fill="none" stroke="midnightblue" d="M783.07,-1200.82C797.02,-1184.36 814.72,-1160 823,-1134.48 851.11,-1047.85 799.49,-358.72 859,-292.53 864.91,-285.95 872.57,-281.48 881.02,-278.53" />
<polygon fill="midnightblue" stroke="midnightblue" points="780.07,-1198.97 776.58,-1208.98 785.55,-1203.33 780.07,-1198.97" />
</g>
<g>
<polygon fill="white" stroke="red" points="877,-195.5 877,-236.5 1044,-236.5 1044,-195.5 877,-195.5" />
<text text-anchor="start" x="885" y="-224.5" font-family="Liberation Sans" font-size="10.2" textLength="105" lengthAdjust="spacingAndGlyphs">EventDownloader::soap</text>
<text text-anchor="start" x="885" y="-213.5" font-family="Liberation Sans" font-size="10.2" textLength="151" lengthAdjust="spacingAndGlyphs">_get__ns1__GenerateOnlineTicket</text>
<text text-anchor="middle" x="960.5" y="-202.5" font-family="Liberation Sans" font-size="10.2" textLength="73" lengthAdjust="spacingAndGlyphs">ExportResponse</text>
</g>
<g>
<path fill="none" stroke="midnightblue" d="M783.09,-1200.83C797.05,-1184.58 814.75,-1160.51 823,-1135.1 852.66,-1043.77 797.88,-314.58 859,-243.7 863.91,-238 870.11,-233.75 877,-230.63" />
<polygon fill="midnightblue" stroke="midnightblue" points="780.09,-1198.98 776.59,-1208.98 785.56,-1203.34 780.09,-1198.98" />
</g>
<g>
<polygon fill="white" stroke="red" points="877,-135.5 877,-176.5 1044,-176.5 1044,-135.5 877,-135.5" />
<text text-anchor="start" x="885" y="-164.5" font-family="Liberation Sans" font-size="10.2" textLength="105" lengthAdjust="spacingAndGlyphs">EventDownloader::soap</text>
<text text-anchor="start" x="885" y="-153.5" font-family="Liberation Sans" font-size="10.2" textLength="151" lengthAdjust="spacingAndGlyphs">_get__ns1__GenerateOnlineTicket</text>
<text text-anchor="middle" x="960.5" y="-142.5" font-family="Liberation Sans" font-size="10.2" textLength="29" lengthAdjust="spacingAndGlyphs">Export</text>
</g>
<g>
<path fill="none" stroke="midnightblue" d="M783.11,-1200.84C797.08,-1184.6 814.78,-1160.52 823,-1135.1 854.51,-1037.61 793.9,-259.41 859,-183.7 863.91,-178 870.1,-173.74 876.98,-170.62" />
<polygon fill="midnightblue" stroke="midnightblue" points="780.11,-1198.99 776.61,-1208.99 785.58,-1203.35 780.11,-1198.99" />
</g>
<g>
<polygon fill="white" stroke="red" points="881.5,-75.5 881.5,-116.5 1039.5,-116.5 1039.5,-75.5 881.5,-75.5" />
<text text-anchor="start" x="889.5" y="-104.5" font-family="Liberation Sans" font-size="10.2" textLength="105" lengthAdjust="spacingAndGlyphs">EventDownloader::soap</text>
<text text-anchor="start" x="889.5" y="-93.5" font-family="Liberation Sans" font-size="10.2" textLength="142" lengthAdjust="spacingAndGlyphs">_get__ns1__ImportCardRegister</text>
<text text-anchor="middle" x="960.5" y="-82.5" font-family="Liberation Sans" font-size="10.2" textLength="45" lengthAdjust="spacingAndGlyphs">Response</text>
</g>
<g>
<path fill="none" stroke="midnightblue" d="M783.12,-1200.84C797.1,-1184.52 814.81,-1160.35 823,-1134.88 856.37,-1031.04 789.92,-204.2 859,-123.28 864.9,-116.36 872.67,-111.55 881.27,-108.27" />
<polygon fill="midnightblue" stroke="midnightblue" points="780.12,-1198.99 776.62,-1208.99 785.59,-1203.36 780.12,-1198.99" />
</g>
<g>
<path fill="none" stroke="midnightblue" d="M783.14,-1200.85C797.13,-1184.57 814.84,-1160.46 823,-1135 858.22,-1025.09 785.93,-149.06 859,-63.51 864.34,-57.26 871.21,-52.74 878.85,-49.53" />
<polygon fill="midnightblue" stroke="midnightblue" points="780.14,-1199 776.63,-1208.99 785.61,-1203.37 780.14,-1199" />
</g>
<g>
<polygon fill="white" stroke="black" points="1098,-15.5 1098,-56.5 1257,-56.5 1257,-15.5 1098,-15.5" />
<text text-anchor="start" x="1106" y="-44.5" font-family="Liberation Sans" font-size="10.2" textLength="105" lengthAdjust="spacingAndGlyphs">EventDownloader::_ns1</text>
<text text-anchor="start" x="1106" y="-33.5" font-family="Liberation Sans" font-size="10.2" textLength="143" lengthAdjust="spacingAndGlyphs">__GenerateIncrementalEventFile</text>
<text text-anchor="middle" x="1177.5" y="-22.5" font-family="Liberation Sans" font-size="10.2" textLength="46" lengthAdjust="spacingAndGlyphs">::soap_get</text>
</g>
<g>
<path fill="none" stroke="midnightblue" d="M1052.53,-36C1067.61,-36 1083.13,-36 1097.88,-36" />
<polygon fill="midnightblue" stroke="midnightblue" points="1052.17,-32.5 1042.17,-36 1052.17,-39.5 1052.17,-32.5" />
</g>
<g>
<path fill="none" stroke="midnightblue" d="M534.7,-1175.13C481.27,-1171.41 407.6,-1166.28 352.29,-1162.42" />
<polygon fill="midnightblue" stroke="midnightblue" points="534.54,-1178.63 544.76,-1175.84 535.03,-1171.65 534.54,-1178.63" />
</g>
<g>
<path fill="none" stroke="midnightblue" d="M669.25,-1197.81C682.29,-1201.52 695.92,-1205.38 708.57,-1208.97" />
<polygon fill="midnightblue" stroke="midnightblue" points="669.98,-1194.38 659.41,-1195.02 668.07,-1201.12 669.98,-1194.38" />
</g>
</g>
</svg>
</body></html>
